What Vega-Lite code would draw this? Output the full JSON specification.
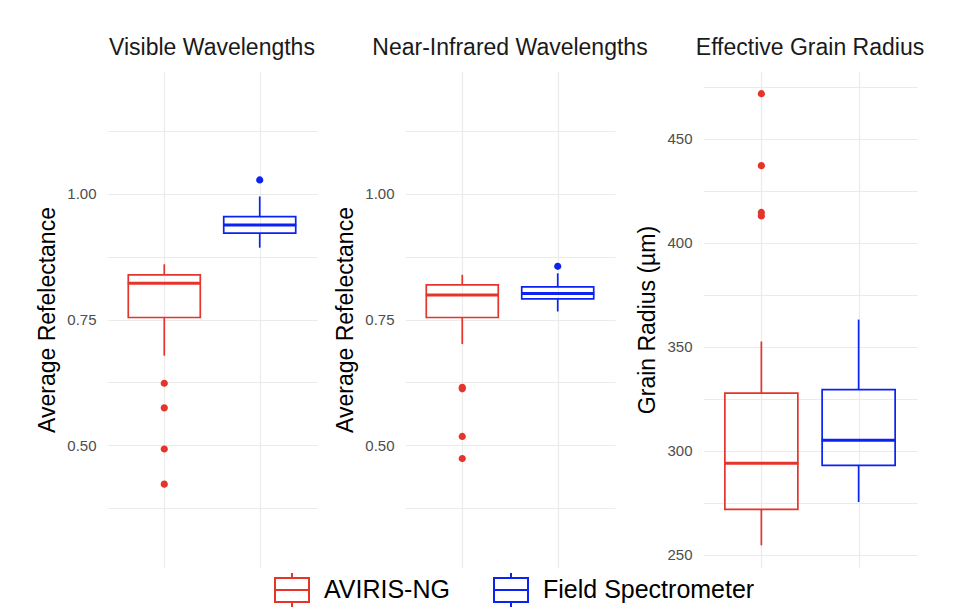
{
  "$schema": "https://vega.github.io/schema/vega-lite/v6.json",
  "padding": {"left": 36, "top": 37, "right": 5, "bottom": 2},
  "bounds": "flush",
  "datasets": {
    "boxes": [
      {"panel": "Visible", "source": "AVIRIS-NG", "lower": 0.678, "q1": 0.754, "median": 0.822, "q3": 0.839, "upper": 0.860},
      {"panel": "Visible", "source": "Field Spectrometer", "lower": 0.893, "q1": 0.922, "median": 0.938, "q3": 0.955, "upper": 0.995},
      {"panel": "NIR", "source": "AVIRIS-NG", "lower": 0.701, "q1": 0.754, "median": 0.799, "q3": 0.819, "upper": 0.839},
      {"panel": "NIR", "source": "Field Spectrometer", "lower": 0.766, "q1": 0.791, "median": 0.802, "q3": 0.815, "upper": 0.842},
      {"panel": "Grain", "source": "AVIRIS-NG", "lower": 254.5, "q1": 271.8, "median": 293.9, "q3": 327.7, "upper": 352.5},
      {"panel": "Grain", "source": "Field Spectrometer", "lower": 275.3, "q1": 292.9, "median": 305.0, "q3": 329.3, "upper": 363.0}
    ],
    "outliers": [
      {"panel": "Visible", "source": "AVIRIS-NG", "value": 0.623},
      {"panel": "Visible", "source": "AVIRIS-NG", "value": 0.574},
      {"panel": "Visible", "source": "AVIRIS-NG", "value": 0.492},
      {"panel": "Visible", "source": "AVIRIS-NG", "value": 0.422},
      {"panel": "Visible", "source": "Field Spectrometer", "value": 1.028},
      {"panel": "NIR", "source": "AVIRIS-NG", "value": 0.615},
      {"panel": "NIR", "source": "AVIRIS-NG", "value": 0.612},
      {"panel": "NIR", "source": "AVIRIS-NG", "value": 0.517},
      {"panel": "NIR", "source": "AVIRIS-NG", "value": 0.473},
      {"panel": "NIR", "source": "Field Spectrometer", "value": 0.856},
      {"panel": "Grain", "source": "AVIRIS-NG", "value": 471.6},
      {"panel": "Grain", "source": "AVIRIS-NG", "value": 437.0},
      {"panel": "Grain", "source": "AVIRIS-NG", "value": 414.5},
      {"panel": "Grain", "source": "AVIRIS-NG", "value": 412.8}
    ]
  },
  "hconcat": [
    {
      "width": 210, "height": 497,
      "title": "Visible Wavelengths",
      "layer": [
        {"data": {"name": "boxes"}, "transform": [{"filter": "datum.panel === 'Visible'"}],
         "mark": {"type": "bar", "filled": false, "width": 72, "strokeWidth": 1.7},
         "encoding": {
           "x": {"field": "source", "type": "nominal", "scale": {"type": "point", "padding": 0.6, "domain": ["AVIRIS-NG", "Field Spectrometer"]}, "axis": {"labels": false, "title": null, "grid": true}},
           "y": {"field": "q1", "type": "quantitative", "title": "Average Refelectance", "scale": {"domain": [0.255, 1.245], "nice": false, "zero": false}, "axis": {"values": [0.375, 0.5, 0.625, 0.75, 0.875, 1.0, 1.125], "labelExpr": "indexof([0.5, 0.75, 1], datum.value) >= 0 ? format(datum.value, '.2f') : ''"}},
           "y2": {"field": "q3"},
           "color": {"field": "source", "type": "nominal", "title": null,
             "legend": {"orient": "none", "legendX": 167, "legendY": 501, "direction": "horizontal"}}
         }},
        {"data": {"name": "boxes"}, "transform": [{"filter": "datum.panel === 'Visible'"}],
         "mark": {"type": "rule", "strokeWidth": 1.7},
         "encoding": {"x": {"field": "source", "type": "nominal"}, "y": {"field": "lower", "type": "quantitative", "title": "Average Refelectance"}, "y2": {"field": "q1"}, "color": {"field": "source", "type": "nominal", "title": null}}},
        {"data": {"name": "boxes"}, "transform": [{"filter": "datum.panel === 'Visible'"}],
         "mark": {"type": "rule", "strokeWidth": 1.7},
         "encoding": {"x": {"field": "source", "type": "nominal"}, "y": {"field": "q3", "type": "quantitative", "title": "Average Refelectance"}, "y2": {"field": "upper"}, "color": {"field": "source", "type": "nominal", "title": null}}},
        {"data": {"name": "boxes"}, "transform": [{"filter": "datum.panel === 'Visible'"}],
         "mark": {"type": "tick", "thickness": 1, "size": 71, "opacity": 1, "filled": false, "strokeWidth": 2},
         "encoding": {"x": {"field": "source", "type": "nominal"}, "y": {"field": "median", "type": "quantitative", "title": "Average Refelectance"}, "color": {"field": "source", "type": "nominal", "title": null}}},
        {"data": {"name": "outliers"}, "transform": [{"filter": "datum.panel === 'Visible'"}],
         "mark": {"type": "point", "shape": "circle", "filled": false, "size": 13, "strokeWidth": 3.6, "opacity": 1},
         "encoding": {"x": {"field": "source", "type": "nominal"}, "y": {"field": "value", "type": "quantitative", "title": "Average Refelectance"}, "color": {"field": "source", "type": "nominal", "title": null}}}
      ]
    },
    {
      "width": 210, "height": 497,
      "title": "Near-Infrared Wavelengths",
      "layer": [
        {"data": {"name": "boxes"}, "transform": [{"filter": "datum.panel === 'NIR'"}],
         "mark": {"type": "bar", "filled": false, "width": 72, "strokeWidth": 1.7},
         "encoding": {
           "x": {"field": "source", "type": "nominal", "scale": {"type": "point", "padding": 0.6, "domain": ["AVIRIS-NG", "Field Spectrometer"]}, "axis": {"labels": false, "title": null, "grid": true}},
           "y": {"field": "q1", "type": "quantitative", "title": "Average Refelectance", "scale": {"domain": [0.255, 1.245], "nice": false, "zero": false}, "axis": {"values": [0.375, 0.5, 0.625, 0.75, 0.875, 1.0, 1.125], "labelExpr": "indexof([0.5, 0.75, 1], datum.value) >= 0 ? format(datum.value, '.2f') : ''"}},
           "y2": {"field": "q3"},
           "color": {"field": "source", "type": "nominal", "title": null}
         }},
        {"data": {"name": "boxes"}, "transform": [{"filter": "datum.panel === 'NIR'"}],
         "mark": {"type": "rule", "strokeWidth": 1.7},
         "encoding": {"x": {"field": "source", "type": "nominal"}, "y": {"field": "lower", "type": "quantitative", "title": "Average Refelectance"}, "y2": {"field": "q1"}, "color": {"field": "source", "type": "nominal", "title": null}}},
        {"data": {"name": "boxes"}, "transform": [{"filter": "datum.panel === 'NIR'"}],
         "mark": {"type": "rule", "strokeWidth": 1.7},
         "encoding": {"x": {"field": "source", "type": "nominal"}, "y": {"field": "q3", "type": "quantitative", "title": "Average Refelectance"}, "y2": {"field": "upper"}, "color": {"field": "source", "type": "nominal", "title": null}}},
        {"data": {"name": "boxes"}, "transform": [{"filter": "datum.panel === 'NIR'"}],
         "mark": {"type": "tick", "thickness": 1, "size": 71, "opacity": 1, "filled": false, "strokeWidth": 2},
         "encoding": {"x": {"field": "source", "type": "nominal"}, "y": {"field": "median", "type": "quantitative", "title": "Average Refelectance"}, "color": {"field": "source", "type": "nominal", "title": null}}},
        {"data": {"name": "outliers"}, "transform": [{"filter": "datum.panel === 'NIR'"}],
         "mark": {"type": "point", "shape": "circle", "filled": false, "size": 13, "strokeWidth": 3.6, "opacity": 1},
         "encoding": {"x": {"field": "source", "type": "nominal"}, "y": {"field": "value", "type": "quantitative", "title": "Average Refelectance"}, "color": {"field": "source", "type": "nominal", "title": null}}}
      ]
    },
    {
      "width": 214, "height": 497,
      "title": "Effective Grain Radius",
      "layer": [
        {"data": {"name": "boxes"}, "transform": [{"filter": "datum.panel === 'Grain'"}],
         "mark": {"type": "bar", "filled": false, "width": 73, "strokeWidth": 1.7},
         "encoding": {
           "x": {"field": "source", "type": "nominal", "scale": {"type": "point", "padding": 0.6, "domain": ["AVIRIS-NG", "Field Spectrometer"]}, "axis": {"labels": false, "title": null, "grid": true}},
           "y": {"field": "q1", "type": "quantitative", "title": "Grain Radius (µm)", "scale": {"domain": [243.6, 482.5], "nice": false, "zero": false}, "axis": {"values": [250, 275, 300, 325, 350, 375, 400, 425, 450, 475], "labelExpr": "datum.value % 50 === 0 ? format(datum.value, 'd') : ''"}},
           "y2": {"field": "q3"},
           "color": {"field": "source", "type": "nominal", "title": null}
         }},
        {"data": {"name": "boxes"}, "transform": [{"filter": "datum.panel === 'Grain'"}],
         "mark": {"type": "rule", "strokeWidth": 1.7},
         "encoding": {"x": {"field": "source", "type": "nominal"}, "y": {"field": "lower", "type": "quantitative", "title": "Grain Radius (µm)"}, "y2": {"field": "q1"}, "color": {"field": "source", "type": "nominal", "title": null}}},
        {"data": {"name": "boxes"}, "transform": [{"filter": "datum.panel === 'Grain'"}],
         "mark": {"type": "rule", "strokeWidth": 1.7},
         "encoding": {"x": {"field": "source", "type": "nominal"}, "y": {"field": "q3", "type": "quantitative", "title": "Grain Radius (µm)"}, "y2": {"field": "upper"}, "color": {"field": "source", "type": "nominal", "title": null}}},
        {"data": {"name": "boxes"}, "transform": [{"filter": "datum.panel === 'Grain'"}],
         "mark": {"type": "tick", "thickness": 1, "size": 72, "opacity": 1, "filled": false, "strokeWidth": 2},
         "encoding": {"x": {"field": "source", "type": "nominal"}, "y": {"field": "median", "type": "quantitative", "title": "Grain Radius (µm)"}, "color": {"field": "source", "type": "nominal", "title": null}}},
        {"data": {"name": "outliers"}, "transform": [{"filter": "datum.panel === 'Grain'"}],
         "mark": {"type": "point", "shape": "circle", "filled": false, "size": 13, "strokeWidth": 3.6, "opacity": 1},
         "encoding": {"x": {"field": "source", "type": "nominal"}, "y": {"field": "value", "type": "quantitative", "title": "Grain Radius (µm)"}, "color": {"field": "source", "type": "nominal", "title": null}}}
      ]
    }
  ],
  "resolve": {"scale": {"color": "shared"}},
  "config": {
    "font": "Liberation Sans",
    "background": "white",
    "view": {"stroke": null},
    "range": {"category": ["#E5352A", "#0A23F2"]},
    "axis": {"gridColor": "#EBEBEB", "gridWidth": 1.2, "domain": false, "ticks": false, "tickSize": 0, "labelColor": "#4D4D4D", "labelFontSize": 15, "labelPadding": 11, "titleFontSize": 23, "titleFontWeight": "normal", "titleColor": "#000000", "titlePadding": 7},
    "title": {"fontSize": 23, "fontWeight": "normal", "anchor": "middle", "color": "#1A1A1A", "offset": 11},
    "legend": {"labelFontSize": 25, "labelColor": "#000000", "labelLimit": 400, "symbolType": "M0,-1L0,-0.7M-1,-0.7L1,-0.7L1,0.7L-1,0.7ZM-1,0L1,0M0,0.7L0,1", "symbolSize": 1156, "symbolStrokeWidth": 2, "symbolFillColor": "white", "labelOffset": 14, "columnPadding": 40},
    "concat": {"spacing": 88}
  }
}
